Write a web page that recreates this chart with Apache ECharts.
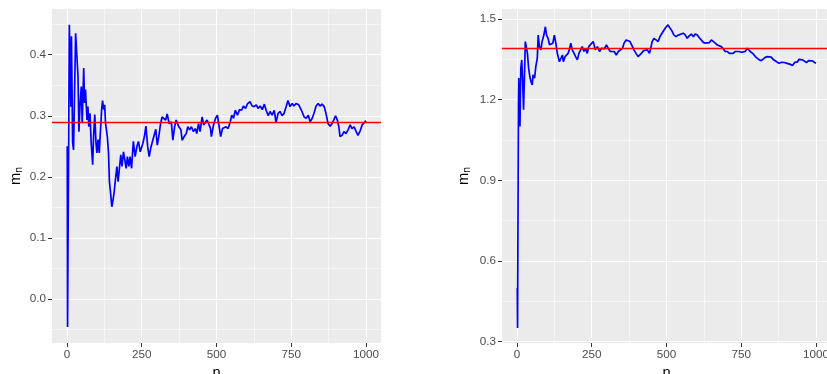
<!DOCTYPE html>
<html>
<head>
<meta charset="utf-8">
<script src="https://cdn.jsdelivr.net/npm/echarts@6/dist/echarts.min.js"></script>
<style>html,body{margin:0;padding:0;background:#fff;overflow:hidden;width:827px;height:374px}#c{position:absolute;left:0;top:0;width:827px;height:374px}</style>
</head>
<body>
<div id="c"></div>
<script>
// ---- data ----
const xTicks = [0, 250, 500, 750, 1000];
const xMinor = [125, 375, 625, 875];
const leftYTicks = [0, 0.1, 0.2, 0.3, 0.4];
const leftYMinor = [-0.05, 0.05, 0.15, 0.25, 0.35, 0.45];
const rightYTicks = [0.3, 0.6, 0.9, 1.2, 1.5];
const rightYMinor = [0.45, 0.75, 1.05, 1.35];
const trueMean = [0.2875, 1.387];
const xRange = [-50, 1050];
const leftYRange = [-0.072, 0.4748];
const rightYRange = [0.295, 1.537];

const leftRunningMean = [[1,0.25],[2,-0.046],[8,0.449],[13,0.315],[15,0.43],[19,0.256],[22,0.244],[25,0.326],[29,0.435],[33,0.438],[37,0.364],[40,0.274],[44,0.321],[48,0.348],[51,0.288],[56,0.378],[59,0.321],[62,0.343],[67,0.293],[70,0.315],[73,0.282],[77,0.304],[81,0.256],[86,0.22],[89,0.266],[93,0.302],[97,0.256],[100,0.239],[104,0.261],[108,0.239],[111,0.266],[116,0.31],[119,0.325],[123,0.31],[126,0.318],[129,0.288],[135,0.266],[139,0.239],[142,0.192],[146,0.173],[150,0.151],[154,0.162],[158,0.176],[162,0.195],[167,0.217],[171,0.192],[176,0.217],[180,0.236],[184,0.217],[189,0.241],[195,0.241],[198,0.214],[202,0.233],[207,0.217],[211,0.233],[216,0.214],[222,0.258],[228,0.233],[234,0.25],[239,0.258],[245,0.241],[254,0.255],[259,0.266],[264,0.283],[270,0.249],[275,0.233],[281,0.249],[287,0.26],[292,0.257],[297,0.278],[302,0.252],[307,0.266],[313,0.287],[318,0.298],[324,0.301],[330,0.293],[335,0.303],[342,0.287],[349,0.29],[354,0.26],[360,0.282],[365,0.293],[370,0.296],[374,0.282],[381,0.277],[385,0.26],[392,0.266],[399,0.271],[404,0.282],[410,0.277],[416,0.282],[423,0.274],[429,0.279],[434,0.271],[440,0.287],[445,0.274],[452,0.298],[457,0.285],[463,0.282],[468,0.293],[474,0.287],[480,0.279],[483,0.266],[490,0.285],[497,0.296],[503,0.301],[509,0.282],[514,0.266],[520,0.279],[526,0.277],[532,0.282],[539,0.279],[546,0.29],[551,0.301],[557,0.296],[563,0.309],[570,0.301],[577,0.31],[584,0.309],[590,0.316],[597,0.312],[604,0.32],[612,0.323],[619,0.316],[626,0.315],[633,0.318],[639,0.312],[646,0.316],[653,0.31],[660,0.319],[666,0.309],[673,0.3],[679,0.307],[686,0.301],[693,0.309],[699,0.289],[706,0.304],[713,0.307],[719,0.3],[726,0.304],[733,0.315],[739,0.325],[746,0.315],[753,0.32],[759,0.316],[766,0.32],[775,0.318],[784,0.309],[793,0.298],[800,0.296],[807,0.301],[813,0.29],[820,0.296],[826,0.304],[833,0.316],[840,0.32],[846,0.316],[853,0.319],[860,0.315],[866,0.304],[873,0.287],[880,0.283],[886,0.287],[893,0.294],[898,0.3],[904,0.293],[909,0.282],[913,0.266],[920,0.268],[926,0.274],[933,0.271],[940,0.277],[947,0.285],[953,0.279],[960,0.282],[967,0.274],[973,0.268],[980,0.275],[987,0.285],[993,0.287],[1000,0.292]];

const rightRunningMean = [[1,0.5],[2,0.351],[5,1.174],[6,1.28],[10,1.1],[13,1.317],[16,1.348],[19,1.273],[22,1.162],[25,1.28],[28,1.416],[31,1.416],[35,1.372],[39,1.317],[43,1.286],[47,1.267],[51,1.255],[54,1.292],[59,1.28],[63,1.323],[68,1.354],[71,1.44],[75,1.397],[80,1.385],[84,1.416],[90,1.44],[95,1.471],[99,1.44],[104,1.428],[109,1.404],[115,1.397],[120,1.41],[125,1.44],[130,1.41],[135,1.372],[142,1.341],[147,1.348],[152,1.366],[155,1.341],[161,1.36],[165,1.354],[171,1.372],[175,1.385],[180,1.41],[185,1.385],[191,1.372],[196,1.36],[202,1.348],[207,1.372],[213,1.385],[218,1.397],[224,1.379],[229,1.391],[235,1.372],[240,1.397],[246,1.403],[255,1.416],[262,1.385],[269,1.397],[276,1.379],[283,1.391],[292,1.389],[299,1.403],[305,1.391],[312,1.379],[318,1.372],[325,1.379],[332,1.366],[339,1.379],[345,1.385],[353,1.391],[358,1.41],[365,1.422],[371,1.424],[378,1.416],[385,1.4],[391,1.385],[398,1.372],[405,1.36],[410,1.354],[416,1.372],[423,1.382],[429,1.379],[436,1.385],[443,1.372],[447,1.389],[452,1.416],[458,1.428],[465,1.422],[472,1.416],[478,1.434],[485,1.447],[492,1.459],[498,1.469],[505,1.478],[512,1.465],[518,1.456],[525,1.44],[532,1.434],[539,1.44],[545,1.447],[556,1.447],[563,1.44],[569,1.428],[576,1.437],[583,1.444],[590,1.434],[596,1.444],[603,1.44],[609,1.431],[616,1.422],[623,1.413],[630,1.41],[636,1.41],[643,1.412],[650,1.422],[656,1.419],[663,1.41],[670,1.403],[676,1.4],[683,1.397],[690,1.389],[696,1.379],[703,1.379],[710,1.372],[716,1.379],[723,1.372],[730,1.379],[736,1.376],[743,1.379],[750,1.376],[756,1.381],[763,1.379],[770,1.391],[776,1.385],[783,1.376],[790,1.37],[797,1.36],[803,1.354],[810,1.348],[817,1.345],[823,1.348],[830,1.357],[837,1.36],[843,1.363],[850,1.358],[858,1.348],[867,1.342],[876,1.335],[885,1.339],[894,1.338],[903,1.335],[912,1.332],[921,1.327],[930,1.34],[937,1.339],[943,1.35],[948,1.354],[955,1.348],[961,1.342],[968,1.338],[975,1.345],[981,1.338],[988,1.344],[995,1.338],[1000,1.335]];

// ---- chart ----
const FONT = '"Liberation Sans", Arial, sans-serif';
const tickStyle = {show: true, length: 4, lineStyle: {color: '#333333', width: 1}};
const labelBase = {color: '#4D4D4D', fontSize: 11.7, fontFamily: FONT};

function majorX(gi) {
  return {
    type: 'value', gridIndex: gi, min: xRange[0], max: xRange[1], position: 'bottom',
    axisLine: {show: false, onZero: false},
    axisTick: Object.assign({customValues: xTicks}, tickStyle),
    axisLabel: Object.assign({customValues: xTicks, margin: 6, formatter: v => String(v)}, labelBase),
    splitLine: {show: true, lineStyle: {color: '#FFFFFF', width: 1.1}},
    name: 'n', nameLocation: 'middle', nameGap: 15,
    nameTextStyle: {color: '#000000', fontSize: 14.7, fontFamily: FONT}
  };
}
function minorX(gi) {
  return {
    type: 'value', gridIndex: gi, min: xRange[0], max: xRange[1], position: 'bottom',
    axisLine: {show: false, onZero: false}, axisLabel: {show: false},
    axisTick: {show: false, customValues: xMinor},
    splitLine: {show: true, lineStyle: {color: '#FFFFFF', width: 0.55}}
  };
}
function majorY(gi, range, ticks, gap) {
  return {
    type: 'value', gridIndex: gi, min: range[0], max: range[1], position: 'left',
    axisLine: {show: false, onZero: false},
    axisTick: Object.assign({customValues: ticks}, tickStyle),
    axisLabel: Object.assign({customValues: ticks, margin: 6, formatter: v => v.toFixed(1)}, labelBase),
    splitLine: {show: true, lineStyle: {color: '#FFFFFF', width: 1.1}},
    name: '{m|m}{s|n}', nameLocation: 'middle', nameGap: gap,
    nameTextStyle: {
      color: '#000000', fontSize: 14.7, fontFamily: FONT,
      rich: {
        m: {fontSize: 14.7, color: '#000000', fontFamily: FONT},
        s: {fontSize: 10.3, color: '#000000', fontFamily: FONT, padding: [7, 0, 0, 0]}
      }
    }
  };
}
function minorY(gi, range, ticks) {
  return {
    type: 'value', gridIndex: gi, min: range[0], max: range[1], position: 'left',
    axisLine: {show: false, onZero: false}, axisLabel: {show: false},
    axisTick: {show: false, customValues: ticks},
    splitLine: {show: true, lineStyle: {color: '#FFFFFF', width: 0.55}}
  };
}

const option = {
  animation: false,
  backgroundColor: '#FFFFFF',
  grid: [
    {left: 52, top: 9, width: 329, height: 334, show: true, backgroundColor: '#EBEBEB', borderWidth: 0, outerBoundsMode: 'none', containLabel: false},
    {left: 502, top: 9, width: 329, height: 334, show: true, backgroundColor: '#EBEBEB', borderWidth: 0, outerBoundsMode: 'none', containLabel: false}
  ],
  xAxis: [majorX(0), majorX(1), minorX(0), minorX(1)],
  yAxis: [
    majorY(0, leftYRange, leftYTicks, 28),
    majorY(1, rightYRange, rightYTicks, 30),
    minorY(0, leftYRange, leftYMinor),
    minorY(1, rightYRange, rightYMinor)
  ],
  series: [
    {type: 'line', xAxisIndex: 0, yAxisIndex: 0, data: leftRunningMean, showSymbol: false, symbol: 'none',
     lineStyle: {color: '#0000FF', width: 1.7}, z: 3},
    {type: 'line', xAxisIndex: 1, yAxisIndex: 1, data: rightRunningMean, showSymbol: false, symbol: 'none',
     lineStyle: {color: '#0000FF', width: 1.7}, z: 3},
    {type: 'line', xAxisIndex: 0, yAxisIndex: 0, data: [], z: 4,
     markLine: {silent: true, symbol: 'none', label: {show: false}, animation: false,
       lineStyle: {color: '#FF0000', width: 1.3, type: 'solid'}, data: [{yAxis: trueMean[0]}]}},
    {type: 'line', xAxisIndex: 1, yAxisIndex: 1, data: [], z: 4,
     markLine: {silent: true, symbol: 'none', label: {show: false}, animation: false,
       lineStyle: {color: '#FF0000', width: 1.3, type: 'solid'}, data: [{yAxis: trueMean[1]}]}}
  ]
};
const chart = echarts.init(document.getElementById('c'), null, {renderer: 'canvas', width: 827, height: 374});
chart.setOption(option);
</script>
</body>
</html>
